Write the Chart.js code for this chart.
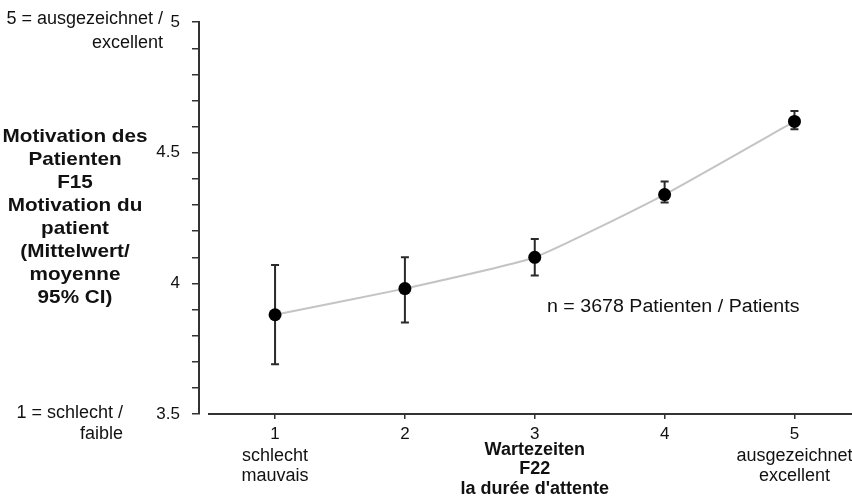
<!DOCTYPE html>
<html>
<head>
<meta charset="utf-8">
<script src="https://cdn.jsdelivr.net/npm/chart.js@4.4.1/dist/chart.umd.min.js"></script>
<style>
  html, body { margin: 0; padding: 0; background: #fff; }
  #wrap { width: 852px; height: 497px; position: relative; }
</style>
</head>
<body>
<div id="wrap"><canvas id="chart"></canvas></div>
<script>
// values
var categories = [1, 2, 3, 4, 5];
var means  = [3.88, 3.98, 4.10, 4.34, 4.62];
var ciLow  = [3.69, 3.85, 4.03, 4.31, 4.59];
var ciHigh = [4.07, 4.10, 4.17, 4.39, 4.66];

var xTicks = [1, 2, 3, 4, 5];
var yTicks = [3.5, 3.6, 3.7, 3.8, 3.9, 4.0, 4.1, 4.2, 4.3, 4.4, 4.5, 4.6, 4.7, 4.8, 4.9, 5.0];
var yLabels = [3.5, 4, 4.5, 5];

var xSubLabels = { 1: ['schlecht', 'mauvais'], 5: ['ausgezeichnet', 'excellent'] };
var xTitle = ['Wartezeiten', 'F22', "la durée d'attente"];
var yTitle = ['Motivation des', 'Patienten', 'F15', 'Motivation du', 'patient', '(Mittelwert/', 'moyenne', '95% CI)'];
var yTopNote = ['5 = ausgezeichnet /', 'excellent'];
var yBottomNote = ['1 = schlecht /', 'faible'];
var nNote = 'n = 3678 Patienten / Patients';

var FONT = '"Liberation Sans", Arial, sans-serif';
var INK = '#111';
var AXIS = '#333';

var points = categories.map(function (c, i) { return { x: c, y: means[i] }; });

// text drawn with an optional horizontal stretch (the source text is a bit wide)
function putText(ctx, text, x, y, align, sx) {
  sx = sx || 1;
  ctx.save();
  ctx.translate(x, y);
  ctx.scale(sx, 1);
  ctx.textAlign = align;
  ctx.fillText(text, 0, 0);
  ctx.restore();
}

var extras = {
  id: 'extras',
  beforeDatasetsDraw: function (chart) {
    var ctx = chart.ctx, xs = chart.scales.x, ys = chart.scales.y, a = chart.chartArea;
    ctx.save();
    // x axis line, starts a little right of the y axis and runs to the edge
    ctx.strokeStyle = AXIS;
    ctx.lineWidth = 2;
    ctx.beginPath();
    ctx.moveTo(a.left + 9, a.bottom);
    ctx.lineTo(chart.width, a.bottom);
    ctx.stroke();
    // error bars
    ctx.strokeStyle = '#2a2a2a';
    ctx.lineWidth = 2;
    for (var i = 0; i < categories.length; i++) {
      var x = xs.getPixelForValue(categories[i]);
      var y1 = ys.getPixelForValue(ciLow[i]);
      var y2 = ys.getPixelForValue(ciHigh[i]);
      ctx.beginPath();
      ctx.moveTo(x, y1); ctx.lineTo(x, y2);
      ctx.moveTo(x - 4, y1); ctx.lineTo(x + 4, y1);
      ctx.moveTo(x - 4, y2); ctx.lineTo(x + 4, y2);
      ctx.stroke();
    }
    ctx.restore();
  },
  afterDraw: function (chart) {
    var ctx = chart.ctx, xs = chart.scales.x;
    ctx.save();
    ctx.fillStyle = INK;
    ctx.textBaseline = 'middle';

    ctx.font = '18px ' + FONT;
    putText(ctx, yTopNote[0], 163, 19, 'right');
    putText(ctx, yTopNote[1], 163, 43, 'right');
    putText(ctx, yBottomNote[0], 123, 413, 'right');
    putText(ctx, yBottomNote[1], 123, 434, 'right');

    putText(ctx, nNote, 547, 307, 'left', 1.09);

    Object.keys(xSubLabels).forEach(function (k) {
      var x = xs.getPixelForValue(Number(k));
      xSubLabels[k].forEach(function (t, j) { putText(ctx, t, x, 456 + j * 20, 'center'); });
    });

    ctx.font = 'bold 18px ' + FONT;
    var x3 = xs.getPixelForValue(3);
    xTitle.forEach(function (t, j) { putText(ctx, t, x3, 450 + j * 19.5, 'center'); });

    ctx.font = 'bold 19px ' + FONT;
    yTitle.forEach(function (t, j) { putText(ctx, t, 75, 137 + j * 23, 'center', 1.09); });
    ctx.restore();
  }
};

new Chart(document.getElementById('chart'), {
  type: 'line',
  data: {
    datasets: [{
      data: points,
      borderColor: '#c4c4c4',
      borderWidth: 2,
      tension: 0.15,
      pointRadius: 6.5,
      pointBackgroundColor: '#000',
      pointBorderColor: '#000',
      pointBorderWidth: 0
    }]
  },
  options: {
    responsive: true,
    maintainAspectRatio: false,
    animation: false,
    layout: { padding: { top: 19, left: 0, right: 0, bottom: 0 } },
    plugins: { legend: { display: false }, tooltip: { enabled: false } },
    scales: {
      x: {
        type: 'linear',
        min: 0.4143,
        max: 5.393,
        afterBuildTicks: function (s) { s.ticks = xTicks.map(function (v) { return { value: v }; }); },
        afterFit: function (s) { s.height = 83; },
        border: { display: false },
        grid: { drawOnChartArea: false, drawTicks: true, tickLength: 5, color: AXIS, lineWidth: 1.5 },
        ticks: { color: INK, font: { family: FONT, size: 17 }, padding: 5, maxRotation: 0 }
      },
      y: {
        min: 3.5,
        max: 5,
        afterBuildTicks: function (s) { s.ticks = yTicks.map(function (v) { return { value: v }; }); },
        afterFit: function (s) { s.width = 199; },
        border: { display: true, color: AXIS, width: 2 },
        grid: { drawOnChartArea: false, drawTicks: true, tickLength: 7, color: AXIS, lineWidth: 1.5 },
        ticks: {
          color: INK,
          font: { family: FONT, size: 17 },
          padding: 12,
          callback: function (v) { return yLabels.indexOf(Math.round(v * 10) / 10) >= 0 ? String(Math.round(v * 10) / 10) : ''; }
        }
      }
    }
  },
  plugins: [extras]
});
</script>
</body>
</html>
